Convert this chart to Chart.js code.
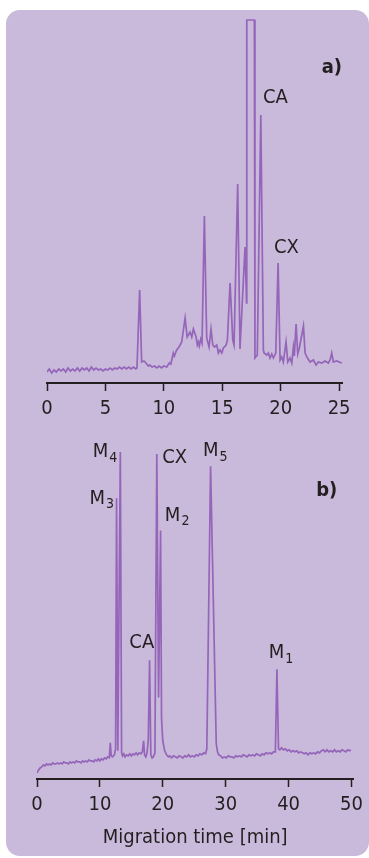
<!DOCTYPE html>
<html>
<head>
<meta charset="utf-8">
<script src="https://cdn.jsdelivr.net/npm/chart.js@4"></script>
<style>
  html, body { margin: 0; padding: 0; background: #ffffff; }
  body { width: 369px; height: 858px; position: relative; overflow: hidden; }
  #panel {
    position: absolute; left: 6px; top: 10px; width: 363px; height: 846px;
    background: #c9b9db; border-radius: 14px;
  }
  canvas { position: absolute; left: 0; }
  #chart-a { top: 0; }
  #chart-b { top: 420px; }
</style>
</head>
<body>
<div id="panel"></div>
<canvas id="chart-a" width="369" height="427"></canvas>
<canvas id="chart-b" width="369" height="438"></canvas>
<script>
// Panel a) - electropherogram, time [min] vs detector signal (arbitrary units)
const timeA = [
  0, 0.2, 0.4, 0.6, 0.8, 1.0, 1.2, 1.4, 1.6, 1.8, 2.0, 2.2, 2.4, 2.6, 2.8, 3.0, 3.2, 3.4, 3.6, 3.8,
  4.0, 4.2, 4.4, 4.6, 4.8, 5.0, 5.2, 5.4, 5.6, 5.8, 6.0, 6.2, 6.4, 6.6, 6.8, 7.0, 7.2, 7.4, 7.6, 7.7,
  7.93, 8.1, 8.3, 8.54, 8.68, 8.8, 9.0, 9.2, 9.4, 9.6, 9.8, 10.0, 10.25, 10.47, 10.6, 10.81, 10.9, 11.1, 11.3, 11.53,
  11.82, 12.0, 12.24, 12.39, 12.53, 12.76, 12.87, 12.96, 13.04, 13.16, 13.27, 13.47, 13.67, 13.87, 14.04, 14.19, 14.33, 14.53, 14.67, 14.81,
  14.96, 15.1, 15.33, 15.44, 15.67, 15.9, 16.01, 16.32, 16.52, 16.95, 17.08, 17.1, 17.75, 17.8, 18.0, 18.3, 18.52, 18.58, 18.81, 18.95,
  19.09, 19.24, 19.38, 19.58, 19.78, 19.95, 20.09, 20.23, 20.46, 20.61, 20.8, 20.95, 21.09, 21.17, 21.32, 21.46, 21.6, 21.95, 22.09, 22.29,
  22.52, 22.8, 23.03, 23.23, 23.52, 23.8, 24.08, 24.23, 24.37, 24.51, 24.8, 25.23
];
const signalA = [
  11, 14, 10, 13, 11, 14, 12, 14, 11, 15, 12, 14, 12, 15, 12, 15, 13, 15, 12, 16,
  13, 15, 13, 14, 12, 14, 13, 15, 13, 15, 14, 16, 14, 16, 14, 16, 14, 16, 14, 15,
  93, 21, 22, 19, 17, 18, 16, 17, 15, 17, 15, 17, 16, 20, 19, 30, 27, 33, 36, 41,
  65, 46, 51, 46, 54, 46, 38, 41, 37, 44, 40, 167, 45, 36, 54, 38, 36, 38, 30, 33,
  30, 35, 38, 43, 100, 43, 38, 199, 34, 136, 80, 363, 363, 25, 28, 268, 33, 30, 28, 30,
  25, 29, 25, 30, 120, 23, 26, 21, 41, 21, 25, 20, 36, 27, 59, 29, 35, 57, 30, 25,
  21, 23, 18, 21, 20, 22, 20, 23, 30, 21, 22, 20
];
const ticksA = [0, 5, 10, 15, 20, 25];

// Panel b)
const timeB = [
  0, 0.25, 0.5, 0.75, 1.0, 1.25, 1.5, 1.75, 2.0, 2.25, 2.5, 2.75, 3.0, 3.25, 3.5, 3.75, 4.0, 4.25, 4.5, 4.75,
  5.0, 5.25, 5.5, 5.75, 6.0, 6.25, 6.5, 6.75, 7.0, 7.25, 7.5, 7.75, 8.0, 8.25, 8.5, 8.75, 9.0, 9.25, 9.5, 9.75,
  10.0, 10.25, 10.5, 10.75, 11.0, 11.25, 11.5, 11.65, 11.8, 12.0, 12.3, 12.5, 12.65, 12.85, 13.25, 13.45, 13.6, 13.8, 14.0, 14.25,
  14.5, 14.75, 15.0, 15.25, 15.5, 15.75, 16.0, 16.25, 16.5, 16.75, 16.95, 17.1, 17.3, 17.5, 17.7, 17.9, 18.1, 18.3, 18.5, 18.75,
  19.05, 19.33, 19.65, 19.8, 20.0, 20.3, 20.6, 20.9, 21.1, 21.4, 21.7, 22.0, 22.3, 22.6, 22.9, 23.2, 23.5, 23.8, 24.1, 24.4,
  24.7, 25.0, 25.3, 25.6, 25.9, 26.2, 26.5, 26.8, 27.0, 27.6, 28.5, 28.7, 28.9, 29.2, 29.5, 29.8, 30.1, 30.4, 30.7, 31.0,
  31.3, 31.6, 31.9, 32.2, 32.5, 32.8, 33.1, 33.4, 33.7, 34.0, 34.3, 34.6, 34.9, 35.2, 35.5, 35.8, 36.1, 36.4, 36.7, 37.0,
  37.3, 37.6, 37.9, 38.15, 38.4, 38.6, 38.9, 39.2, 39.5, 39.8, 40.1, 40.4, 40.7, 41.0, 41.3, 41.6, 41.9, 42.2, 42.5, 42.8,
  43.1, 43.4, 43.7, 44.0, 44.3, 44.6, 44.9, 45.2, 45.5, 45.8, 46.1, 46.4, 46.7, 47.0, 47.3, 47.6, 47.9, 48.2, 48.5, 48.8,
  49.1, 49.4, 49.7, 49.9
];
const signalB = [
  6, 9, 11, 12, 14, 13, 15, 14, 15, 14, 16, 15, 15, 16, 15, 16, 15, 17, 16, 16,
  15, 17, 16, 17, 16, 18, 17, 17, 16, 18, 17, 18, 17, 19, 18, 18, 17, 19, 18, 20,
  18, 20, 19, 21, 20, 22, 21, 36, 23, 22, 24, 30, 279, 28, 325, 26, 23, 25, 22, 24,
  23, 25, 23, 25, 24, 26, 24, 26, 25, 27, 38, 24, 22, 26, 40, 118, 24, 21, 22, 26,
  323, 81, 247, 60, 38, 28, 24, 22, 23, 21, 23, 22, 21, 23, 22, 21, 23, 22, 24, 22,
  23, 22, 24, 23, 25, 24, 26, 25, 30, 311, 35, 27, 24, 23, 21, 22, 21, 23, 22, 22,
  21, 23, 22, 23, 22, 24, 23, 22, 24, 23, 24, 23, 25, 24, 23, 25, 24, 26, 25, 26,
  25, 27, 27, 109, 30, 29, 31, 29, 30, 28, 29, 27, 28, 27, 28, 26, 27, 26, 25, 26,
  24, 26, 25, 26, 25, 27, 26, 28, 29, 27, 29, 27, 28, 27, 29, 27, 28, 27, 29, 28,
  27, 29, 28, 29
];
const ticksB = [0, 10, 20, 30, 40, 50];

// Peak labels: text, subscript, anchor time, anchor signal, alignment
const labelsA = [
  { text: 'a)', sub: '', t: 25.25, v: 315, align: 'right', bold: true },
  { text: 'CA', sub: '', t: 18.49, v: 285, align: 'left' },
  { text: 'CX', sub: '', t: 19.43, v: 135, align: 'left' }
];
const labelsB = [
  { text: 'M', sub: '4', t: 12.77, v: 325, align: 'right' },
  { text: 'M', sub: '3', t: 12.25, v: 279, align: 'right' },
  { text: 'CX', sub: '', t: 19.9, v: 319, align: 'left' },
  { text: 'M', sub: '5', t: 26.4, v: 326, align: 'left' },
  { text: 'M', sub: '2', t: 20.33, v: 262, align: 'left' },
  { text: 'CA', sub: '', t: 14.68, v: 135, align: 'left' },
  { text: 'M', sub: '1', t: 36.86, v: 125, align: 'left' },
  { text: 'b)', sub: '', t: 47.75, v: 287, align: 'right', bold: true }
];

const FONT = '"Liberation Sans Narrow", "DejaVu Sans Condensed", Roboto, sans-serif';
const INK = '#231f20';
const TRACE = '#9465b8';

const peakLabels = {
  id: 'peakLabels',
  afterDraw(chart, args, opts) {
    const { ctx, scales: { x, y } } = chart;
    ctx.save();
    ctx.fillStyle = INK;
    ctx.textBaseline = 'middle';
    opts.items.forEach(l => {
      const px = x.getPixelForValue(l.t);
      const py = y.getPixelForValue(l.v);
      const mainFont = (l.bold ? 'bold ' : '') + '20px ' + FONT;
      const subFont = '14px ' + FONT;
      ctx.font = mainFont;
      const w1 = ctx.measureText(l.text).width;
      ctx.font = subFont;
      const w2 = l.sub ? ctx.measureText(l.sub).width + 1 : 0;
      const left = l.align === 'right' ? px - w1 - w2 : px;
      ctx.textAlign = 'left';
      ctx.font = mainFont;
      ctx.fillText(l.text, left, py);
      if (l.sub) {
        ctx.font = subFont;
        ctx.fillText(l.sub, left + w1 + 1, py + 6);
      }
    });
    ctx.restore();
  }
};

const makeChart = (canvasId, times, signal, tickValues, opts) => {
  const ctx = document.getElementById(canvasId).getContext('2d');
  return new Chart(ctx, {
    type: 'line',
    data: {
      datasets: [{
        data: times.map((t, i) => ({ x: t, y: signal[i] })),
        borderColor: TRACE,
        borderWidth: 1.7,
        pointRadius: 0,
        tension: 0,
        fill: false
      }]
    },
    options: {
      responsive: false,
      animation: false,
      devicePixelRatio: 1,
      layout: { padding: opts.padding },
      plugins: {
        legend: { display: false },
        tooltip: { enabled: false },
        peakLabels: { items: opts.labels }
      },
      scales: {
        x: {
          type: 'linear',
          min: 0,
          max: opts.xMax,
          afterBuildTicks: axis => { axis.ticks = tickValues.map(v => ({ value: v })); },
          ticks: {
            color: INK,
            font: { family: FONT, size: 20 },
            padding: 6,
            maxRotation: 0,
            autoSkip: false
          },
          grid: {
            display: true,
            drawOnChartArea: false,
            drawTicks: true,
            tickLength: 8,
            tickColor: INK,
            tickWidth: 1.5
          },
          border: { display: true, color: INK, width: 2 },
          title: opts.title ? {
            display: true,
            text: opts.title,
            color: INK,
            font: { family: FONT, size: 20 },
            padding: { top: 3, bottom: 0 }
          } : { display: false }
        },
        y: {
          type: 'linear',
          display: false,
          min: 0,
          max: opts.yMax
        }
      }
    },
    plugins: [peakLabels]
  });
};

makeChart('chart-a', timeA, signalA, ticksA, {
  xMax: 25.25,
  yMax: 365,
  padding: { top: 18, left: 47, right: 27, bottom: 0 },
  labels: labelsA
});

makeChart('chart-b', timeB, signalB, ticksB, {
  xMax: 50.3,
  yMax: 340,
  padding: { top: 17, left: 37, right: 15, bottom: 8 },
  labels: labelsB,
  title: 'Migration time [min]'
});
</script>
</body>
</html>
